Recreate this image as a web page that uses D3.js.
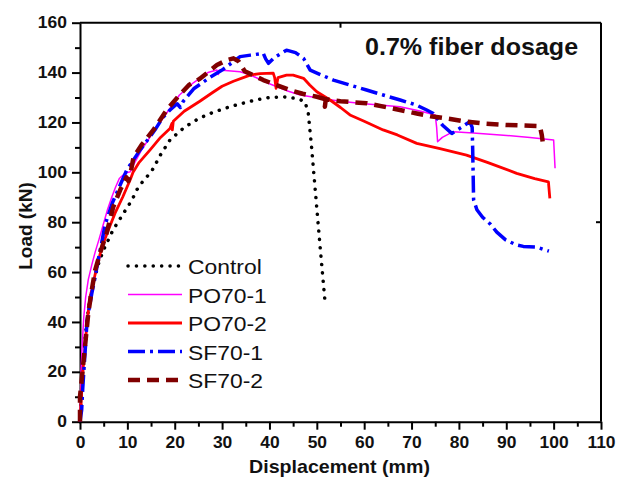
<!DOCTYPE html>
<html>
<head>
<meta charset="utf-8">
<script src="https://cdn.jsdelivr.net/npm/d3@7"></script>
<style>
  body { margin: 0; background: #fff; }
  text { font-family: "Liberation Sans", Arial, sans-serif; }
</style>
</head>
<body>
<svg id="grafica" width="629" height="480"></svg>
<script>
// Datos: [desplazamiento (mm), carga (kN)]
const control = [[0,0],[0.3,12],[0.6,22],[1,32],[1.5,41],[2,48],[2.5,53],[3,57],[4,64],[5,69],[6,73],[7,77],[8,80],[9,83],[10,86],[11,89],[12,93],[13.5,97],[15,100],[17,107],[19,113],[22,118],[25,121.5],[28,124],[32,126.5],[37,129],[40,130],[43,130.3],[46,129.5],[47.5,128.3],[48.2,123.7],[48.9,110],[49.8,90],[50.7,70],[51.7,48.8]];

const po70_1 = [[0,0],[0.2,20],[0.5,32],[0.8,42],[1.2,50],[1.75,57],[2.5,63],[3.2,68],[4,73],[4.9,79],[5.8,85],[6.7,90],[7.5,94],[8.3,97.5],[9.5,99.6],[10.6,100.2],[11.3,103],[13,109],[15.8,117],[18,123],[21,131],[24,136],[27,140],[28.9,141],[29.2,139.2],[29.4,141],[33.8,140.3],[36,139],[40,135.5],[44,132.5],[46.5,131],[50.7,129.7],[55,128.5],[60,127.5],[67.6,126.3],[72,124.5],[75,123],[75.3,118],[75.5,112.3],[76.5,114],[78.8,116.3],[83,115.8],[88.7,115],[95,114],[100,113],[100.3,101.6]];

const po70_2 = [[0,0],[0.3,10],[0.6,20],[1.06,30],[1.5,40],[2.1,50],[2.5,53],[3.3,60],[4.6,70],[6,77],[7.4,83.6],[9,90],[10.6,97],[11.2,100],[12.5,104],[14.8,109],[17,114],[19,117.6],[19.4,119.6],[19.5,117],[19.7,120.5],[22,124.5],[25.3,128.5],[28,132],[30,134.5],[32.4,136.5],[35.9,139],[38,139.6],[40.8,139.8],[41.1,138],[41.4,133.7],[41.8,138],[43.6,139],[45,139],[47.2,137.7],[48.5,135],[50,132.3],[52.8,129],[55,126],[57,123],[60,120.5],[64,117],[67,115],[71.1,111.6],[76,109.5],[81.6,106.9],[86,104],[92.2,99.6],[96,97.5],[98.9,96.2],[99.2,89.6]];

const sf70_1 = [[0,0],[0.35,4.7],[0.56,12.7],[0.8,20],[1.06,27.4],[1.5,40.8],[2.5,51.5],[3.2,58],[3.9,65.5],[4.6,72],[5.3,79],[6.8,87.6],[8.5,95],[9.9,101],[12.7,109],[14.8,114.3],[16,117.5],[17.5,122],[19,125],[20.5,127.5],[21.2,126],[21.8,128.5],[24,133.5],[27.4,138],[30,141],[33.8,146.4],[36,147],[38.7,147.7],[39.2,145.5],[39.8,143.7],[41,146],[43.6,149],[45.5,148],[47.2,145.7],[48.6,141],[51,139],[53.5,137],[57,135],[60.5,133],[64,131],[67.6,129],[71,127],[73.2,125],[74.6,123.6],[76.5,119],[78.5,115.6],[80.5,118],[82.3,120.3],[82.8,118],[82.9,110],[83,100],[83.1,89],[83.8,85],[85,82],[86.6,79.3],[88,76],[89.8,73],[92,71],[93.6,70.3],[96.5,70],[98,69],[99,68.4]];

const sf70_2 = [[0,0],[0,10],[0.7,23.4],[1.2,33],[1.75,43.5],[2.5,53],[3.2,60.8],[4.3,68],[5.6,75.5],[7,86],[8.5,93],[9.8,98],[10.2,96.5],[10.6,99],[11.3,106],[13,111],[15.5,117],[18.3,125],[21,131],[23,135],[25.3,137.5],[28.9,143],[31,145],[32.4,145.7],[33.5,144.5],[34.8,140.5],[36.5,139],[38.7,137],[41.5,135],[44.3,133],[47,131.5],[50,130.3],[51.5,129.5],[51.7,126.3],[51.9,129.3],[55,128.5],[60.5,127.7],[65,126],[71.1,123.6],[74,122.5],[77.4,121.6],[81,120.5],[85.2,119.6],[90,119],[97.1,118.5],[97.5,115],[97.8,110.5]];

const nombresSeries = ["Control", "PO70-1", "PO70-2", "SF70-1", "SF70-2"];
const datosSeries = [control, po70_1, po70_2, sf70_1, sf70_2];

const ticksX = [0, 10, 20, 30, 40, 50, 60, 70, 80, 90, 100, 110];
const ticksY = [0, 20, 40, 60, 80, 100, 120, 140, 160];
const menoresX = [5, 15, 25, 35, 45, 55, 65, 75, 85, 95, 105];
const menoresY = [10, 30, 50, 70, 90, 110, 130, 150];

// Estilo de cada serie
const estilos = [
  { color: "#000000", ancho: 3.5, dash: "0.1,8.3", cap: "round" },
  { color: "#ff00ff", ancho: 1.5, dash: null, cap: "butt" },
  { color: "#ff0000", ancho: 2.8, dash: null, cap: "butt" },
  { color: "#0000ff", ancho: 3.5, dash: "17,5,3,5", cap: "butt" },
  { color: "#800000", ancho: 4.5, dash: "12,7", cap: "butt" }
];

const svg = d3.select("#grafica");
const estirar = 1.09; // el texto de la figura está algo ensanchado

const margin = { top: 22.7, right: 28, bottom: 58.3, left: 80 };
const width = 629, height = 480;

const x = d3.scaleLinear().domain([0, 110]).range([margin.left, width - margin.right]);
const y = d3.scaleLinear().domain([0, 160]).range([height - margin.bottom, margin.top]);

// Ejes principales
const ejeX = svg.append("g")
  .attr("transform", `translate(0,${y(0)})`)
  .call(d3.axisBottom(x).tickValues(ticksX).tickSize(8).tickSizeOuter(0).tickPadding(7));
const ejeY = svg.append("g")
  .attr("transform", `translate(${x(0)},0)`)
  .call(d3.axisLeft(y).tickValues(ticksY).tickSize(8).tickSizeOuter(0).tickPadding(4));

[ejeX, ejeY].forEach(eje => {
  eje.selectAll("text")
    .style("font-size", "16px")
    .style("font-weight", "bold")
    .attr("fill", "#111")
    .attr("transform", `scale(${estirar},1)`);
  eje.selectAll("line").attr("stroke-width", 2);
  eje.select(".domain").attr("stroke-width", 2);
});

// Ticks menores
svg.append("g")
  .attr("transform", `translate(0,${y(0)})`)
  .call(d3.axisBottom(x).tickValues(menoresX).tickSize(5).tickSizeOuter(0).tickFormat(""))
  .call(g => g.select(".domain").remove())
  .selectAll("line").attr("stroke-width", 2);
svg.append("g")
  .attr("transform", `translate(${x(0)},0)`)
  .call(d3.axisLeft(y).tickValues(menoresY).tickSize(5).tickSizeOuter(0).tickFormat(""))
  .call(g => g.select(".domain").remove())
  .selectAll("line").attr("stroke-width", 2);

// Marco superior y derecho
svg.append("line")
  .attr("x1", x(0)).attr("x2", x(110)).attr("y1", y(160)).attr("y2", y(160))
  .attr("stroke", "#000").attr("stroke-width", 2);
svg.append("line")
  .attr("x1", x(110)).attr("x2", x(110)).attr("y1", y(160)).attr("y2", y(0))
  .attr("stroke", "#000").attr("stroke-width", 2);
// restos de ticks del marco
svg.append("line")
  .attr("x1", x(55)).attr("x2", x(55)).attr("y1", y(160)).attr("y2", y(160) + 5)
  .attr("stroke", "#000").attr("stroke-width", 2);
svg.append("line")
  .attr("x1", x(110)).attr("x2", x(110) - 5).attr("y1", y(80)).attr("y2", y(80))
  .attr("stroke", "#000").attr("stroke-width", 2);

// Curvas
const linea = d3.line()
  .x(d => x(d[0]))
  .y(d => y(d[1]));

datosSeries.forEach((serie, i) => {
  const e = estilos[i];
  svg.append("path")
    .datum(serie)
    .attr("fill", "none")
    .attr("stroke", e.color)
    .attr("stroke-width", e.ancho)
    .attr("stroke-dasharray", e.dash)
    .attr("stroke-linecap", e.cap)
    .attr("stroke-linejoin", "round")
    .attr("d", linea);
});

// Títulos de ejes
svg.append("text")
  .attr("transform", `translate(${(x(0) + x(110)) / 2 - 1},473) scale(${estirar},1)`)
  .attr("text-anchor", "middle")
  .style("font-size", "18px")
  .style("font-weight", "bold")
  .attr("fill", "#111")
  .text("Displacement (mm)");

svg.append("text")
  .attr("transform", "translate(32,226) rotate(-90)")
  .attr("text-anchor", "middle")
  .style("font-size", "19px")
  .style("font-weight", "bold")
  .attr("fill", "#111")
  .text("Load (kN)");

// Rótulo
svg.append("text")
  .attr("transform", `translate(365,55) scale(${estirar},1)`)
  .style("font-size", "23px")
  .style("font-weight", "bold")
  .attr("fill", "#111")
  .text("0.7% fiber dosage");

// Leyenda
const leyenda = svg.append("g").attr("transform", "translate(128,266)");
nombresSeries.forEach((nombre, i) => {
  const e = estilos[i];
  const fila = leyenda.append("g").attr("transform", `translate(0,${i * 28.5})`);
  fila.append("line")
    .attr("x1", 0).attr("x2", 54)
    .attr("y1", 0).attr("y2", 0)
    .attr("stroke", e.color)
    .attr("stroke-width", e.ancho)
    .attr("stroke-dasharray", e.dash)
    .attr("stroke-linecap", e.cap);
  fila.append("text")
    .attr("transform", `translate(60,8) scale(${estirar},1)`)
    .style("font-size", "21px")
    .attr("fill", "#111")
    .text(nombre);
});
</script>
</body>
</html>
